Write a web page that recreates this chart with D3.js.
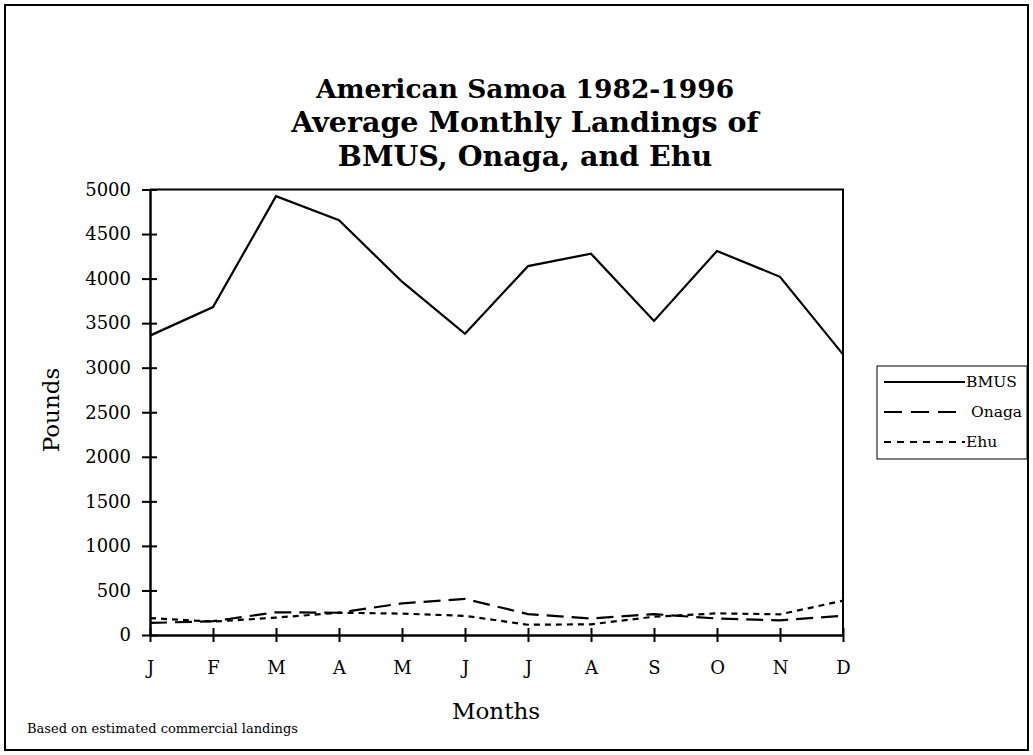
<!DOCTYPE html>
<html>
<head>
<meta charset="utf-8">
<script src="https://cdn.jsdelivr.net/npm/d3@7"></script>
<style>
  body { margin: 0; background: #fff; }
  svg text { font-family: "DejaVu Serif", serif; fill: #000; }
</style>
</head>
<body>
<div id="chart"></div>
<script>
var months = ["J", "F", "M", "A", "M", "J", "J", "A", "S", "O", "N", "D"];
var bmus  = [3360, 3680, 4925, 4655, 3965, 3380, 4140, 4280, 3525, 4310, 4020, 3150];
var onaga = [135, 155, 255, 250, 355, 405, 235, 185, 235, 185, 165, 215];
var ehu   = [190, 150, 195, 250, 240, 215, 115, 120, 205, 243, 232, 385];
var yTicks = [0, 500, 1000, 1500, 2000, 2500, 3000, 3500, 4000, 4500, 5000];
var titleLines = ["American Samoa 1982-1996", "Average Monthly Landings of", "BMUS, Onaga, and Ehu"];

var W = 1033, H = 755;
var plot = {left: 150, right: 843, top: 189.5, bottom: 635};

var svg = d3.select("#chart").append("svg")
  .attr("width", W)
  .attr("height", H);

// outer frame
svg.append("rect")
  .attr("x", 5).attr("y", 5)
  .attr("width", 1023).attr("height", 745)
  .attr("fill", "none")
  .attr("stroke", "#000")
  .attr("stroke-width", 2);

// title
svg.append("g").selectAll("text")
  .data(titleLines)
  .join("text")
    .attr("x", 525)
    .attr("y", (d, i) => 98 + i * 34)
    .attr("text-anchor", "middle")
    .style("font-size", (d, i) => i == 0 ? "26.5px" : "28.5px")
    .style("font-weight", "bold")
    .text(d => d);

var x = d3.scalePoint()
  .domain(d3.range(months.length))
  .range([plot.left, plot.right]);

var y = d3.scaleLinear()
  .domain([0, 5000])
  .range([plot.bottom, plot.top]);

// plot frame (top and right)
svg.append("path")
  .attr("d", "M" + plot.left + "," + plot.top + "H" + plot.right + "V" + plot.bottom)
  .attr("fill", "none")
  .attr("stroke", "#000")
  .attr("stroke-width", 2);

// Y axis
var yAxis = svg.append("g")
  .attr("transform", "translate(" + plot.left + ",0)")
  .call(d3.axisLeft(y).tickValues(yTicks).tickFormat(d3.format("d")).tickSize(8).tickSizeOuter(0));
yAxis.select(".domain").attr("stroke-width", 2.5);
yAxis.selectAll(".tick line").attr("stroke-width", 2).attr("x2", -8).attr("x1", 7);
yAxis.selectAll(".tick text")
  .style("font-size", "18px")
  .style("font-family", "DejaVu Serif, serif")
  .attr("x", -19);

// X axis
var xAxis = svg.append("g")
  .attr("transform", "translate(0," + plot.bottom + ")")
  .call(d3.axisBottom(x).tickFormat(i => months[i]).tickSize(7).tickSizeOuter(0));
xAxis.select(".domain").attr("stroke-width", 2.5);
xAxis.selectAll(".tick line").attr("stroke-width", 2).attr("y1", -7).attr("y2", 7);
xAxis.selectAll(".tick text")
  .style("font-size", "18px")
  .style("font-family", "DejaVu Serif, serif")
  .attr("y", 26);

// axis titles
svg.append("text")
  .attr("transform", "translate(59,410) rotate(-90)")
  .attr("text-anchor", "middle")
  .style("font-size", "23px")
  .text("Pounds");

svg.append("text")
  .attr("x", 496)
  .attr("y", 719)
  .attr("text-anchor", "middle")
  .style("font-size", "23px")
  .text("Months");

svg.append("text")
  .attr("x", 27)
  .attr("y", 733)
  .style("font-size", "13px")
  .text("Based on estimated commercial landings");

// series
var series = [
  {name: "BMUS", values: bmus, dash: null},
  {name: "Onaga", values: onaga, dash: "17,8"},
  {name: "Ehu", values: ehu, dash: "6,5"}
];

var line = d3.line()
  .x((d, i) => x(i))
  .y(d => y(d));

svg.append("g").selectAll("path")
  .data(series)
  .join("path")
    .attr("d", d => line(d.values))
    .attr("fill", "none")
    .attr("stroke", "#000")
    .attr("stroke-width", 2.2)
    .attr("stroke-dasharray", d => d.dash);

// legend
var legend = svg.append("g").attr("transform", "translate(877,366)");
legend.append("rect")
  .attr("width", 150).attr("height", 93)
  .attr("fill", "#fff")
  .attr("stroke", "#000")
  .attr("stroke-width", 1);

var legendDash = {BMUS: null, Onaga: "18,9", Ehu: "7,6"};
var item = legend.selectAll(".item")
  .data(series)
  .join("g")
    .attr("class", "item")
    .attr("transform", (d, i) => "translate(0," + (16 + i * 30) + ")");
item.append("line")
  .attr("x1", 7).attr("x2", d => d.name == "Onaga" ? 84 : 88)
  .attr("stroke", "#000")
  .attr("stroke-width", 2.2)
  .attr("stroke-dasharray", d => legendDash[d.name]);
item.append("text")
  .attr("x", d => d.name == "Onaga" ? 94 : 89)
  .attr("y", 5)
  .style("font-size", "15.5px")
  .text(d => d.name);
</script>
</body>
</html>
